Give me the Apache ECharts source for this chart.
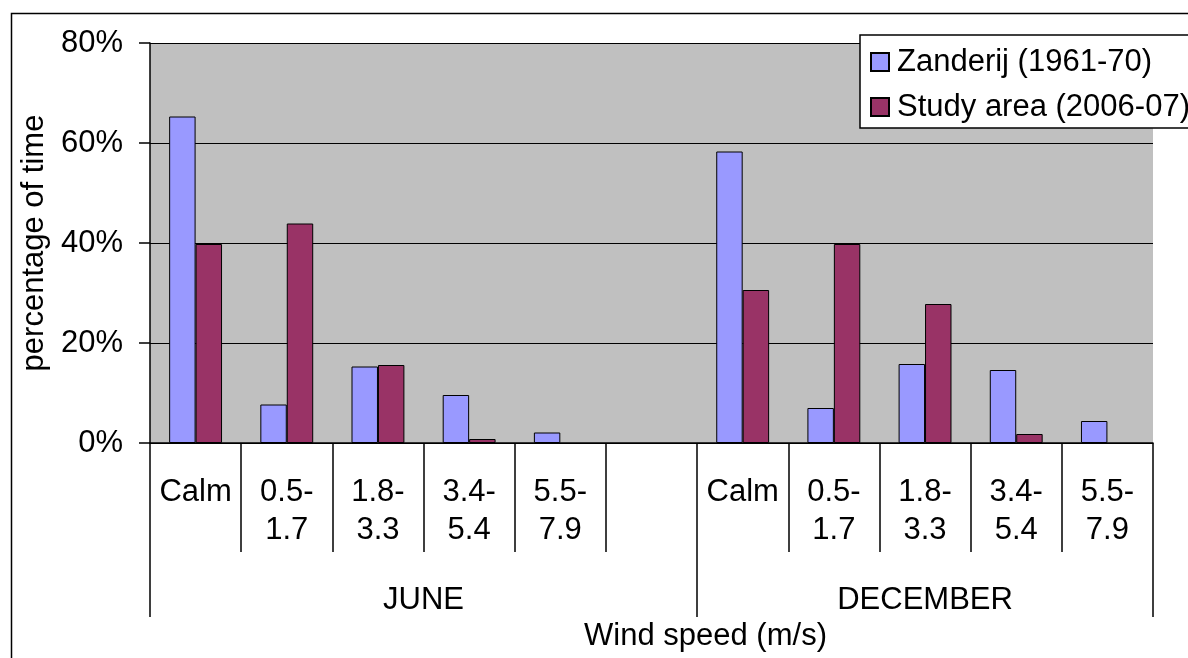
<!DOCTYPE html>
<html>
<head>
<meta charset="utf-8">
<script src="https://cdn.jsdelivr.net/npm/echarts@6/dist/echarts.min.js"></script>
<style>
html,body{margin:0;padding:0;background:#fff;}
#chart{width:1188px;height:658px;}
</style>
</head>
<body>
<div id="chart"></div>
<script>
// ---- data ----
const categories = ['Calm', '0.5-\n1.7', '1.8-\n3.3', '3.4-\n5.4', '5.5-\n7.9', '',
                    'Calm', '0.5-\n1.7', '1.8-\n3.3', '3.4-\n5.4', '5.5-\n7.9'];
const groupNames = ['JUNE', 'DECEMBER'];
const groupSizes = [6, 5];
const seriesNames = ['Zanderij (1961-70)', 'Study area (2006-07)'];
const zanderij = [65.3, 7.7, 15.3, 9.6, 2.1, null, 58.3, 7.0, 15.8, 14.6, 4.4];
const studyArea = [39.8, 43.9, 15.6, 0.8, null, null, 30.6, 39.8, 27.8, 1.8, null];
const yTicks = [0, 20, 40, 60, 80];

// group boundaries / centres on a 0..N value scale
const bounds = [0];
groupSizes.forEach(s => bounds.push(bounds[bounds.length - 1] + s));
const centers = groupSizes.map((s, i) => bounds[i] + s / 2);

const FONT = 'Liberation Sans, Arial, sans-serif';
const FS = 31;

const chart = echarts.init(document.getElementById('chart'));
chart.setOption({
  animation: false,
  backgroundColor: '#ffffff',
  textStyle: { fontFamily: FONT, color: '#000' },
  graphic: [{
    type: 'rect',
    shape: { x: 11.5, y: 13.5, width: 1400, height: 1000 },
    style: { fill: 'none', stroke: '#000', lineWidth: 1.5 },
    silent: true
  }],
  grid: {
    left: 150, right: 35, top: 43, bottom: 215,
    show: true, backgroundColor: '#c0c0c0', borderWidth: 0
  },
  legend: {
    orient: 'vertical',
    left: 860, top: 35,
    backgroundColor: '#ffffff',
    borderColor: '#000', borderWidth: 1.5,
    padding: [10, 20, 4, 10],
    itemWidth: 18, itemHeight: 18, itemGap: 11,
    icon: 'rect',
    textStyle: { fontFamily: FONT, fontSize: FS, color: '#000', lineHeight: 34, padding: [0, 0, 0, 3] },
    data: seriesNames
  },
  xAxis: [{
    type: 'category',
    data: categories,
    position: 'bottom',
    axisLine: { show: true, lineStyle: { color: '#000', width: 1.5 } },
    axisTick: { show: true, interval: 0, length: 109, lineStyle: { color: '#000', width: 1.5 } },
    axisLabel: { interval: 0, fontFamily: FONT, fontSize: FS, color: '#000', lineHeight: 38, margin: 30 },
    splitLine: { show: false }
  }, {
    type: 'value',
    min: 0, max: bounds[bounds.length - 1],
    position: 'bottom',
    axisLine: { show: false },
    axisTick: { show: true, length: 174, customValues: bounds, lineStyle: { color: '#000', width: 1.5 } },
    axisLabel: {
      customValues: centers,
      formatter: v => groupNames[centers.indexOf(v)] || '',
      fontFamily: FONT, fontSize: FS, color: '#000', margin: 142
    },
    splitLine: { show: false },
    name: 'Wind speed (m/s)',
    nameLocation: 'middle',
    nameGap: 177,
    nameTextStyle: { fontFamily: FONT, fontSize: FS, color: '#000', padding: [0, 0, 0, 108] }
  }],
  yAxis: {
    type: 'value',
    min: yTicks[0], max: yTicks[yTicks.length - 1], interval: 20,
    name: 'percentage of time',
    nameLocation: 'middle',
    nameGap: 99,
    nameTextStyle: { fontFamily: FONT, fontSize: FS, color: '#000' },
    axisLine: { show: true, lineStyle: { color: '#000', width: 1.5 } },
    axisTick: { show: true, inside: false, length: 11, lineStyle: { color: '#000', width: 1.5 } },
    axisLabel: { formatter: '{value}%', fontFamily: FONT, fontSize: FS, color: '#000', margin: 27 },
    splitLine: { show: true, lineStyle: { color: '#000', width: 1.2 } }
  },
  series: [{
    name: seriesNames[0],
    type: 'bar',
    xAxisIndex: 0,
    data: zanderij,
    barWidth: '29%',
    barGap: '0%',
    itemStyle: { color: '#9999ff', borderColor: '#000', borderWidth: 1 }
  }, {
    name: seriesNames[1],
    type: 'bar',
    xAxisIndex: 0,
    data: studyArea,
    barWidth: '29%',
    barGap: '0%',
    itemStyle: { color: '#993366', borderColor: '#000', borderWidth: 1 }
  }]
});
</script>
</body>
</html>
